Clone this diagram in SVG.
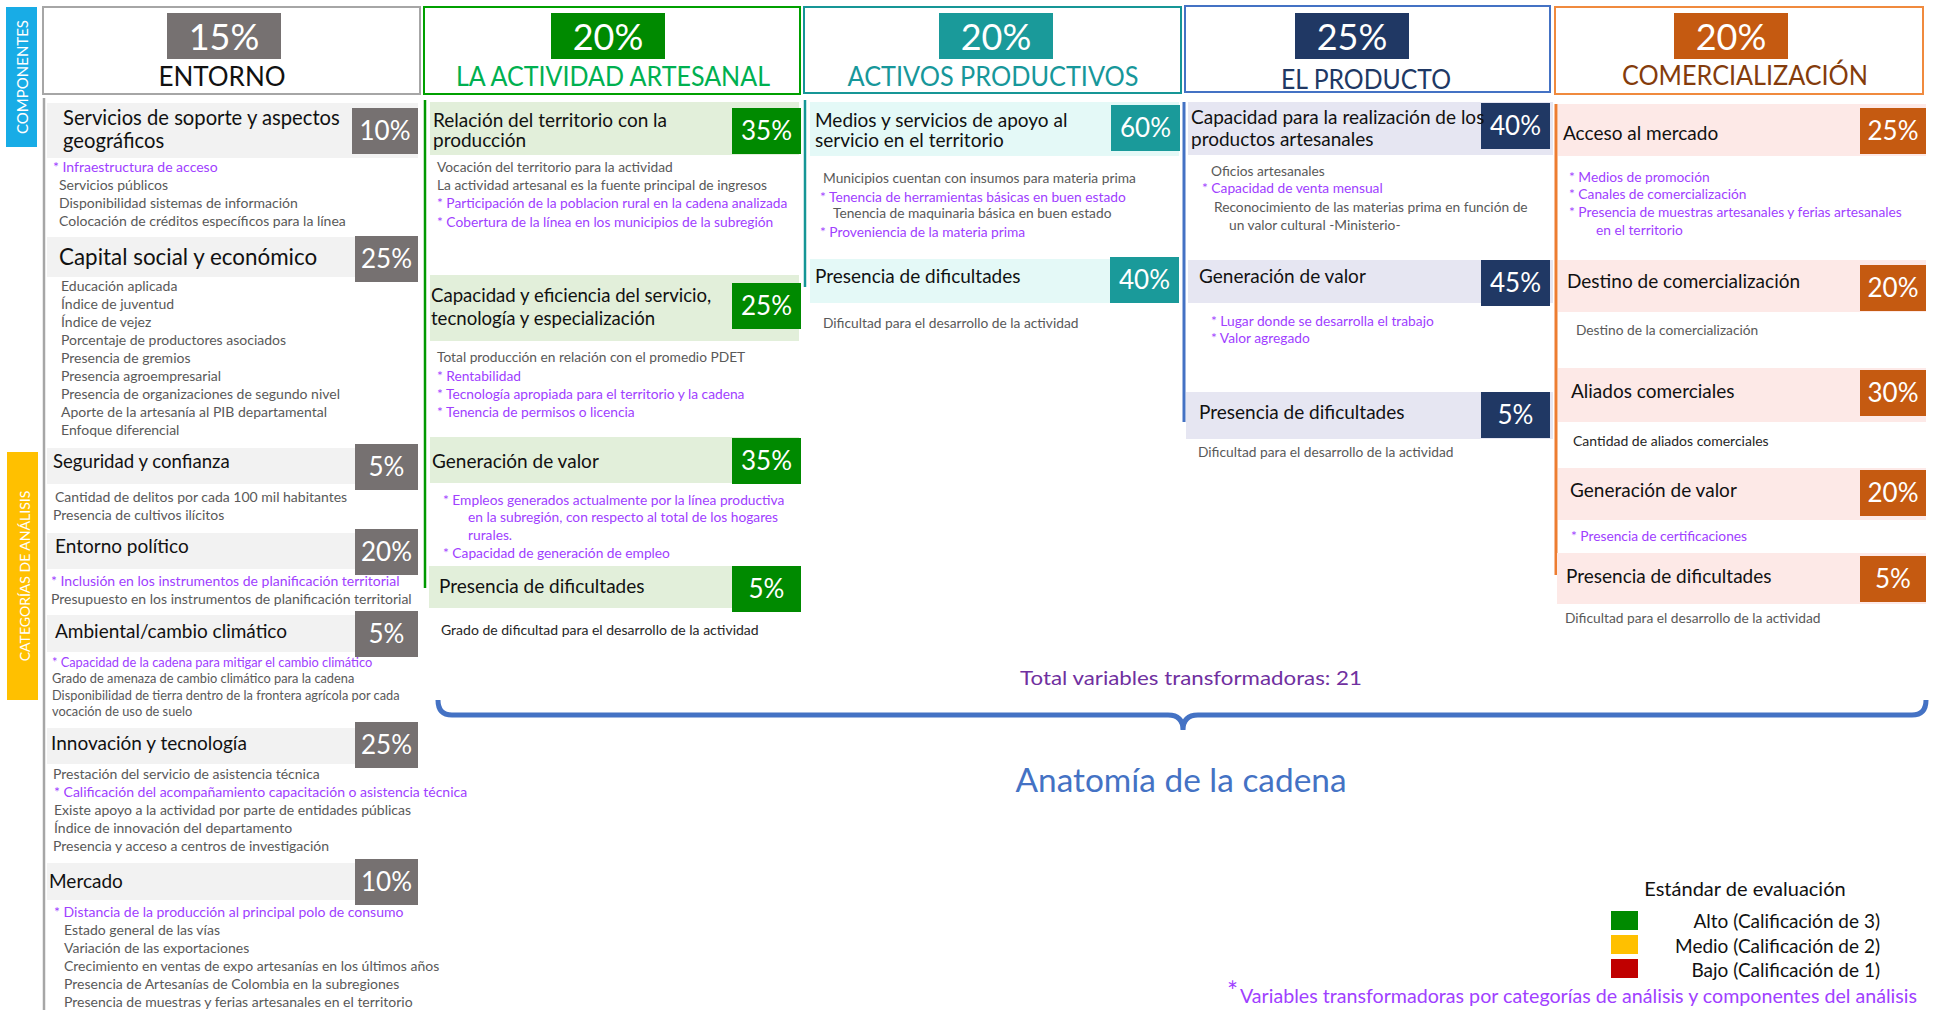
<svg xmlns="http://www.w3.org/2000/svg" width="1938" height="1010" viewBox="0 0 1938 1010">
<style>
text{font-family:Lato,"Open Sans","Liberation Sans",sans-serif}
.hp{font-size:36px;fill:#fff;text-anchor:middle}
.ht{font-size:26px;text-anchor:middle}
.ct{font-size:19px;fill:#111}
.pc{font-size:26px;fill:#fff;text-anchor:middle}
.it{font-size:14px;fill:#595959}
.iv{font-size:14px;fill:#A040FF}
.id{font-size:14px;fill:#262626}
.sm{font-size:13.75px}
.xs{font-size:12.8px}
.gp{fill:#767171}.gb{fill:#F2F2F2}
.ap{fill:#008A00}.ab{fill:#E2EFDA}
.tp{fill:#1A9A9A}.tb{fill:#E4F9F7}
.np{fill:#203864}.nb{fill:#E6E6F2}
.op{fill:#C55A11}.ob{fill:#FDE9E7}
</style>
<rect width="1938" height="1010" fill="#fff"/>

<g id="side-labels">
<rect x="6" y="7" width="31" height="140" fill="#18ACE6"/>
<text transform="translate(28,77) rotate(-90)" font-size="15" fill="#fff" text-anchor="middle">COMPONENTES</text>
<rect x="7" y="452" width="31" height="248" fill="#FFC000"/>
<text transform="translate(30,576) rotate(-90)" font-size="14" fill="#fff" text-anchor="middle">CATEGORÍAS DE ANÁLISIS</text>
</g>

<!-- ENTORNO -->
<g id="entorno">
<rect x="43" y="7" width="377" height="87" fill="#fff" stroke="#A6A6A6" stroke-width="2"/>
<rect x="167" y="13" width="114" height="46" class="gp"/>
<text x="224" y="50" class="hp">15%</text>
<text x="222" y="86" class="ht" fill="#111">ENTORNO</text>
<line x1="44" y1="98" x2="44" y2="1010" stroke="#A6A6A6" stroke-width="2.5"/>
</g>
<g id="e-servicios">
<rect x="47" y="103" width="371" height="55" class="gb"/>
<rect x="352" y="108" width="66" height="46" class="gp"/>
<text x="385" y="140" class="pc">10%</text>
<text x="63" y="125" class="ct" style="font-size:20.2px">Servicios de soporte y aspectos</text>
<text x="63" y="148" class="ct" style="font-size:20.2px">geográficos</text>
<text x="53" y="172" class="iv">* Infraestructura de acceso</text>
<text x="59" y="190" class="it">Servicios públicos</text>
<text x="59" y="208" class="it">Disponibilidad sistemas de información</text>
<text x="59" y="226" class="it">Colocación de créditos específicos para la línea</text>
</g>
<g id="e-capital">
<rect x="47" y="237" width="371" height="40" class="gb"/>
<rect x="355" y="236" width="63" height="46" class="gp"/>
<text x="386.5" y="268" class="pc">25%</text>
<text x="59" y="265" class="ct" style="font-size:22.4px">Capital social y económico</text>
<text x="61" y="291" class="it">Educación aplicada</text>
<text x="61" y="309" class="it">Índice de juventud</text>
<text x="61" y="327" class="it">Índice de vejez</text>
<text x="61" y="345" class="it">Porcentaje de productores asociados</text>
<text x="61" y="363" class="it">Presencia de gremios</text>
<text x="61" y="381" class="it">Presencia agroempresarial</text>
<text x="61" y="399" class="it">Presencia de organizaciones de segundo nivel</text>
<text x="61" y="417" class="it">Aporte de la artesanía al PIB departamental</text>
<text x="61" y="435" class="it">Enfoque diferencial</text>
</g>
<g id="e-seguridad">
<rect x="47" y="448" width="371" height="36" class="gb"/>
<rect x="355" y="444" width="63" height="46" class="gp"/>
<text x="386.5" y="476" class="pc">5%</text>
<text x="53" y="468" class="ct" style="font-size:18.6px">Seguridad y confianza</text>
<text x="55" y="502" class="it">Cantidad de delitos por cada 100 mil habitantes</text>
<text x="53" y="520" class="it">Presencia de cultivos ilícitos</text>
</g>
<g id="e-politico">
<rect x="47" y="533" width="371" height="36" class="gb"/>
<rect x="355" y="529" width="63" height="46" class="gp"/>
<text x="386.5" y="561" class="pc">20%</text>
<text x="55" y="553" class="ct">Entorno político</text>
<text x="51" y="586" class="iv">* Inclusión en los instrumentos de planificación territorial</text>
<text x="51" y="604" class="it">Presupuesto en los instrumentos de planificación territorial</text>
</g>
<g id="e-ambiental">
<rect x="47" y="615" width="371" height="37" class="gb"/>
<rect x="355" y="611" width="63" height="46" class="gp"/>
<text x="386.5" y="643" class="pc">5%</text>
<text x="55" y="638" class="ct">Ambiental/cambio climático</text>
<text x="52" y="667" class="iv xs">* Capacidad de la cadena para mitigar el cambio climático</text>
<text x="52" y="683" class="it xs">Grado de amenaza de cambio climático para la cadena</text>
<text x="52" y="700" class="it xs">Disponibilidad de tierra dentro de la frontera agrícola por cada</text>
<text x="52" y="716" class="it xs">vocación de uso de suelo</text>
</g>
<g id="e-innovacion">
<rect x="47" y="728" width="371" height="36" class="gb"/>
<rect x="355" y="722" width="63" height="46" class="gp"/>
<text x="386.5" y="754" class="pc">25%</text>
<text x="51" y="750" class="ct">Innovación y tecnología</text>
<text x="53" y="779" class="it">Prestación del servicio de asistencia técnica</text>
<text x="54" y="797" class="iv">* Calificación del acompañamiento capacitación o asistencia técnica</text>
<text x="54" y="815" class="it">Existe apoyo a la actividad  por parte de entidades públicas</text>
<text x="54" y="833" class="it">Índice de innovación del departamento</text>
<text x="53" y="851" class="it">Presencia y acceso a centros de investigación</text>
</g>
<g id="e-mercado">
<rect x="47" y="863" width="371" height="37" class="gb"/>
<rect x="355" y="859" width="63" height="46" class="gp"/>
<text x="386.5" y="891" class="pc">10%</text>
<text x="49" y="888" class="ct">Mercado</text>
<text x="54" y="917" class="iv">* Distancia de la producción al principal polo de consumo</text>
<text x="64" y="935" class="it">Estado general de las vías</text>
<text x="64" y="953" class="it">Variación de las exportaciones</text>
<text x="64" y="971" class="it">Crecimiento en ventas de expo artesanías en los últimos años</text>
<text x="64" y="989" class="it">Presencia de Artesanías de Colombia en la subregiones</text>
<text x="64" y="1007" class="it">Presencia de muestras y ferias artesanales en el territorio</text>
</g>

<!-- LA ACTIVIDAD ARTESANAL -->
<g id="actividad">
<rect x="424" y="7" width="376" height="87" fill="#fff" stroke="#00A000" stroke-width="2"/>
<rect x="551" y="13" width="114" height="46" class="ap"/>
<text x="608" y="50" class="hp">20%</text>
<text x="613" y="86" class="ht" fill="#00B050" textLength="314" lengthAdjust="spacingAndGlyphs">LA ACTIVIDAD ARTESANAL</text>
<line x1="425" y1="100" x2="425" y2="588" stroke="#009900" stroke-width="2.5"/>
</g>
<g id="a-relacion">
<rect x="430" y="102" width="369" height="53" class="ab"/>
<rect x="732" y="108" width="69" height="46" class="ap"/>
<text x="766.5" y="140" class="pc">35%</text>
<text x="433" y="127" class="ct">Relación del territorio con la</text>
<text x="433" y="147" class="ct">producción</text>
<text x="437" y="172" class="it sm">Vocación del  territorio para la actividad</text>
<text x="437" y="190" class="it sm">La actividad artesanal es la fuente principal de ingresos</text>
<text x="437" y="208" class="iv sm">* Participación de la poblacion rural en la cadena analizada</text>
<text x="437" y="227" class="iv sm">* Cobertura de la línea en los municipios de  la subregión</text>
</g>
<g id="a-capacidad">
<rect x="430" y="275" width="369" height="66" class="ab"/>
<rect x="732" y="283" width="69" height="46" class="ap"/>
<text x="766.5" y="315" class="pc">25%</text>
<text x="431" y="302" class="ct" style="font-size:18.6px">Capacidad y eficiencia del servicio,</text>
<text x="431" y="325" class="ct" style="font-size:18.6px">tecnología y especialización</text>
<text x="437" y="362" class="it sm">Total producción en relación con el promedio PDET</text>
<text x="437" y="381" class="iv sm">* Rentabilidad</text>
<text x="437" y="399" class="iv sm">* Tecnología apropiada para el territorio y la cadena</text>
<text x="437" y="417" class="iv sm">* Tenencia de permisos o licencia</text>
</g>
<g id="a-generacion">
<rect x="430" y="437" width="369" height="46" class="ab"/>
<rect x="732" y="438" width="69" height="46" class="ap"/>
<text x="766.5" y="470" class="pc">35%</text>
<text x="432" y="468" class="ct">Generación de valor</text>
<text x="443" y="505" class="iv sm">* Empleos generados actualmente por la línea productiva</text>
<text x="468" y="522" class="iv sm">en la subregión, con respecto al total de los hogares</text>
<text x="468" y="540" class="iv sm">rurales.</text>
<text x="443" y="558" class="iv sm">*  Capacidad de generación de empleo</text>
</g>
<g id="a-dificultades">
<rect x="429" y="566" width="370" height="42" class="ab"/>
<rect x="732" y="566" width="69" height="46" class="ap"/>
<text x="766.5" y="598" class="pc">5%</text>
<text x="439" y="593" class="ct">Presencia de dificultades</text>
<text x="441" y="635" class="id">Grado de dificultad para el desarrollo de la actividad</text>
</g>

<!-- ACTIVOS PRODUCTIVOS -->
<g id="activos">
<rect x="804" y="7" width="377" height="86" fill="#fff" stroke="#169696" stroke-width="2"/>
<rect x="939" y="13" width="114" height="46" class="tp"/>
<text x="996" y="50" class="hp">20%</text>
<text x="993" y="86" class="ht" fill="#17979A" textLength="291" lengthAdjust="spacingAndGlyphs">ACTIVOS PRODUCTIVOS</text>
<line x1="805" y1="100" x2="805" y2="287" stroke="#169696" stroke-width="2.5"/>
</g>
<g id="b-medios">
<rect x="810" y="102" width="369" height="54" class="tb"/>
<rect x="1111" y="105" width="69" height="46" class="tp"/>
<text x="1145.5" y="137" class="pc">60%</text>
<text x="815" y="127" class="ct">Medios y servicios de apoyo al</text>
<text x="815" y="147" class="ct">servicio en el territorio</text>
<text x="823" y="183" class="it sm">Municipios cuentan con insumos para materia prima</text>
<text x="820" y="202" class="iv sm">* Tenencia de herramientas básicas en buen estado</text>
<text x="833" y="218" class="it sm">Tenencia de maquinaria básica en buen estado</text>
<text x="820" y="237" class="iv sm">* Proveniencia de la materia prima</text>
</g>
<g id="b-dificultades">
<rect x="810" y="259" width="369" height="44" class="tb"/>
<rect x="1110" y="257" width="69" height="46" class="tp"/>
<text x="1144.5" y="289" class="pc">40%</text>
<text x="815" y="283" class="ct">Presencia de dificultades</text>
<text x="823" y="328" class="it sm">Dificultad para el desarrollo de la actividad</text>
</g>

<!-- EL PRODUCTO -->
<g id="producto">
<rect x="1185" y="6" width="365" height="86" fill="#fff" stroke="#4472C4" stroke-width="2"/>
<rect x="1295" y="13" width="114" height="46" class="np"/>
<text x="1352" y="50" class="hp">25%</text>
<text x="1366" y="89" class="ht" fill="#203864" textLength="170" lengthAdjust="spacingAndGlyphs">EL PRODUCTO</text>
<line x1="1184" y1="102" x2="1184" y2="422" stroke="#4472C4" stroke-width="3"/>
</g>
<g id="c-capacidad">
<rect x="1188" y="102" width="365" height="53" class="nb"/>
<rect x="1481" y="103" width="69" height="46" class="np"/>
<text x="1515.5" y="135" class="pc">40%</text>
<text x="1191" y="124" class="ct">Capacidad para la realización de los</text>
<text x="1191" y="146" class="ct">productos artesanales</text>
<text x="1211" y="176" class="it sm">Oficios artesanales</text>
<text x="1202" y="193" class="iv sm">* Capacidad de venta mensual</text>
<text x="1214" y="212" class="it sm">Reconocimiento de las materias prima en función de</text>
<text x="1229" y="230" class="it sm">un valor cultural -Ministerio-</text>
</g>
<g id="c-generacion">
<rect x="1188" y="260" width="365" height="43" class="nb"/>
<rect x="1481" y="260" width="69" height="46" class="np"/>
<text x="1515.5" y="292" class="pc">45%</text>
<text x="1199" y="283" class="ct">Generación de valor</text>
<text x="1211" y="326" class="iv sm">* Lugar donde se desarrolla el trabajo</text>
<text x="1211" y="343" class="iv sm">* Valor agregado</text>
</g>
<g id="c-dificultades">
<rect x="1186" y="392" width="367" height="47" class="nb"/>
<rect x="1481" y="392" width="69" height="46" class="np"/>
<text x="1515.5" y="424" class="pc">5%</text>
<text x="1199" y="419" class="ct">Presencia de dificultades</text>
<text x="1198" y="457" class="it sm">Dificultad para el desarrollo de la actividad</text>
</g>

<!-- COMERCIALIZACIÓN -->
<g id="comercializacion">
<rect x="1555" y="7" width="368" height="87" fill="#fff" stroke="#F08A3E" stroke-width="2"/>
<rect x="1674" y="13" width="114" height="46" class="op"/>
<text x="1731" y="50" class="hp">20%</text>
<text x="1745" y="85" class="ht" fill="#843C0C" textLength="246" lengthAdjust="spacingAndGlyphs">COMERCIALIZACIÓN</text>
<line x1="1556" y1="104" x2="1556" y2="575" stroke="#ED7D31" stroke-width="3"/>
</g>
<g id="d-acceso">
<rect x="1558" y="104" width="368" height="52" class="ob"/>
<rect x="1860" y="108" width="66" height="46" class="op"/>
<text x="1893" y="140" class="pc">25%</text>
<text x="1563" y="140" class="ct">Acceso al mercado</text>
<text x="1569" y="182" class="iv sm">* Medios de promoción</text>
<text x="1569" y="199" class="iv sm">* Canales de comercialización</text>
<text x="1569" y="217" class="iv sm">* Presencia de muestras artesanales y ferias artesanales</text>
<text x="1596" y="235" class="iv sm">en el territorio</text>
</g>
<g id="d-destino">
<rect x="1558" y="260" width="368" height="52" class="ob"/>
<rect x="1860" y="265" width="66" height="46" class="op"/>
<text x="1893" y="297" class="pc">20%</text>
<text x="1567" y="288" class="ct">Destino de comercialización</text>
<text x="1576" y="335" class="it sm">Destino de la comercialización</text>
</g>
<g id="d-aliados">
<rect x="1558" y="368" width="368" height="54" class="ob"/>
<rect x="1860" y="370" width="66" height="46" class="op"/>
<text x="1893" y="402" class="pc">30%</text>
<text x="1571" y="398" class="ct">Aliados comerciales</text>
<text x="1573" y="446" class="id">Cantidad de aliados comerciales</text>
</g>
<g id="d-generacion">
<rect x="1558" y="468" width="368" height="52" class="ob"/>
<rect x="1860" y="470" width="66" height="46" class="op"/>
<text x="1893" y="502" class="pc">20%</text>
<text x="1570" y="497" class="ct">Generación de valor</text>
<text x="1571" y="541" class="iv sm">* Presencia de certificaciones</text>
</g>
<g id="d-dificultades">
<rect x="1557" y="553" width="369" height="51" class="ob"/>
<rect x="1860" y="556" width="66" height="46" class="op"/>
<text x="1893" y="588" class="pc">5%</text>
<text x="1566" y="583" class="ct">Presencia de dificultades</text>
<text x="1565" y="623" class="it sm">Dificultad para el desarrollo de la actividad</text>
</g>

<g id="connectors">
<path d="M438,700 Q438,715 452,715 L1168,715 Q1183,715 1183,730 Q1183,715 1198,715 L1912,715 Q1926,715 1926,700" fill="none" stroke="#4472C4" stroke-width="5"/>
</g>

<g id="summary">
<text x="1191" y="685" font-size="20" fill="#7030A0" text-anchor="middle" textLength="342" lengthAdjust="spacingAndGlyphs">Total variables transformadoras: 21</text>
<text x="1181" y="792" font-size="33" fill="#4472C4" text-anchor="middle" textLength="331" lengthAdjust="spacingAndGlyphs">Anatomía de la cadena</text>
</g>

<g id="legend">
<text x="1745" y="896" font-size="20" fill="#111" text-anchor="middle">Estándar de evaluación</text>
<rect x="1611" y="911" width="27" height="19" fill="#008A00"/>
<rect x="1611" y="935" width="27" height="19" fill="#FFC000"/>
<rect x="1611" y="959" width="27" height="19" fill="#C00000"/>
<text x="1880" y="928" font-size="19" fill="#111" text-anchor="end">Alto (Calificación de 3)</text>
<text x="1880" y="953" font-size="19" fill="#111" text-anchor="end">Medio (Calificación de 2)</text>
<text x="1880" y="977" font-size="19" fill="#111" text-anchor="end">Bajo (Calificación de 1)</text>
<text x="1227" y="1001" font-size="26" fill="#A040FF">*</text>
<text x="1240" y="1003" font-size="19.5" fill="#A040FF" textLength="677" lengthAdjust="spacingAndGlyphs">Variables transformadoras por categorías de análisis y componentes del análisis</text>
</g>
</svg>
